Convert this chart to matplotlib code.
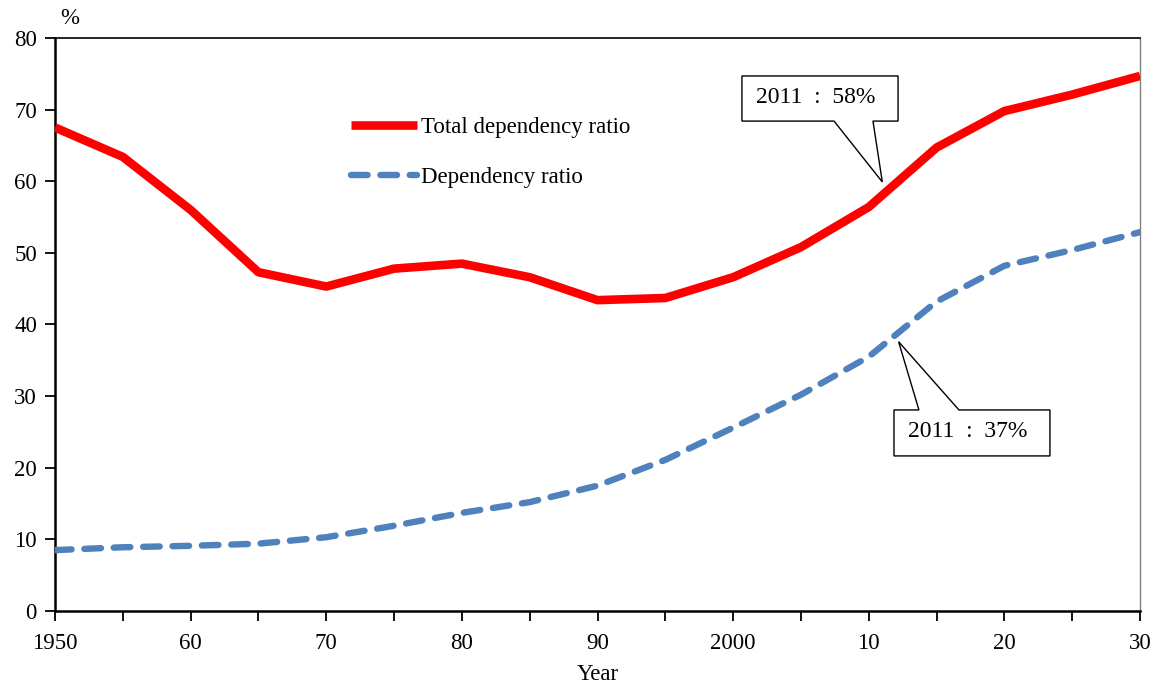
import matplotlib
matplotlib.use("Agg")
import matplotlib.pyplot as plt
from matplotlib.patches import Polygon

years = [1950, 1955, 1960, 1965, 1970, 1975, 1980, 1985, 1990, 1995,
         2000, 2005, 2010, 2015, 2020, 2025, 2030]
total_ratio = [67.5, 63.4, 56.0, 47.3, 45.3, 47.8, 48.5, 46.6, 43.4, 43.7,
               46.6, 50.8, 56.4, 64.7, 69.8, 72.1, 74.7]
old_ratio = [8.5, 8.9, 9.1, 9.4, 10.3, 11.9, 13.7, 15.2, 17.5, 21.1,
             25.6, 30.2, 35.5, 43.2, 48.2, 50.4, 52.9]
xtick_pos = [1950, 1960, 1970, 1980, 1990, 2000, 2010, 2020, 2030]
xtick_labels = ["1950", "60", "70", "80", "90", "2000", "10", "20", "30"]
labels = ["Total dependency ratio", "Dependency ratio"]
notes = ["2011  :  58%", "2011  :  37%"]
note_points = [(2011, 59.9), (2012.2, 37.6)]

plt.rcParams['font.family'] = ['Liberation Serif', 'DejaVu Serif']

fig = plt.figure(figsize=(11.54, 6.84), dpi=100)
ax = fig.add_axes([55/1154, 1 - 611/684, (1140-55)/1154, (611-38)/684])

ax.plot(years, total_ratio, color='#FF0000', lw=6.2, solid_capstyle='butt',
        solid_joinstyle='round', label=labels[0], zorder=3)
ax.plot(years, old_ratio, color='#4F81BD', lw=4.6, dashes=(2.6, 2.0),
        dash_capstyle='round', label=labels[1], zorder=3)

ax.set_xlim(1950, 2030)
ax.set_ylim(0, 80)
ax.set_xticks(xtick_pos)
ax.set_xticks(range(1955, 2031, 10), minor=True)
ax.set_xticklabels(xtick_labels)
ax.set_yticks(range(0, 81, 10))
ax.tick_params(axis='both', which='both', direction='out', length=7, width=1.3,
               labelsize=16.5, colors='black')
ax.tick_params(axis='x', which='major', pad=9)
ax.tick_params(axis='y', pad=6)
for s in ['left', 'bottom']:
    ax.spines[s].set_linewidth(1.8)
ax.spines['top'].set_linewidth(1.2)
ax.spines['right'].set_linewidth(1.0)
ax.spines['right'].set_color('#808080')

ax.set_xlabel("Year", fontsize=16.5, labelpad=7)
ax.text(0.005, 1.015, "%", transform=ax.transAxes, fontsize=16.5,
        ha='left', va='bottom')

leg = ax.legend(loc='upper left', bbox_to_anchor=(0.264, 0.878), frameon=False,
                fontsize=16.5, handlelength=2.9, handletextpad=0.15, labelspacing=1.25,
                borderaxespad=0)

# callout boxes
def callout(x0, x1, y0, y1, t0, t1, tip, text, tail_on_bottom):
    if tail_on_bottom:
        pts = [(x0, y1), (x1, y1), (x1, y0), (t1, y0), tip, (t0, y0), (x0, y0)]
    else:
        pts = [(x0, y0), (x1, y0), (x1, y1), (t1, y1), tip, (t0, y1), (x0, y1)]
    poly = Polygon(pts, closed=True, facecolor='white', edgecolor='black',
                   lw=1.0, zorder=4, joinstyle='miter')
    ax.add_patch(poly)
    ax.text((x0 + x1) / 2 - 0.3, (y0 + y1) / 2 + 0.2, text, ha='center', va='center',
            fontsize=17, zorder=5)

callout(2000.65, 2012.16, 68.4, 74.7, 2007.44, 2010.31, note_points[0], notes[0], True)
callout(2011.86, 2023.36, 21.65, 28.07, 2013.7, 2016.65, note_points[1], notes[1], False)

fig.savefig("out.png", dpi=100)
